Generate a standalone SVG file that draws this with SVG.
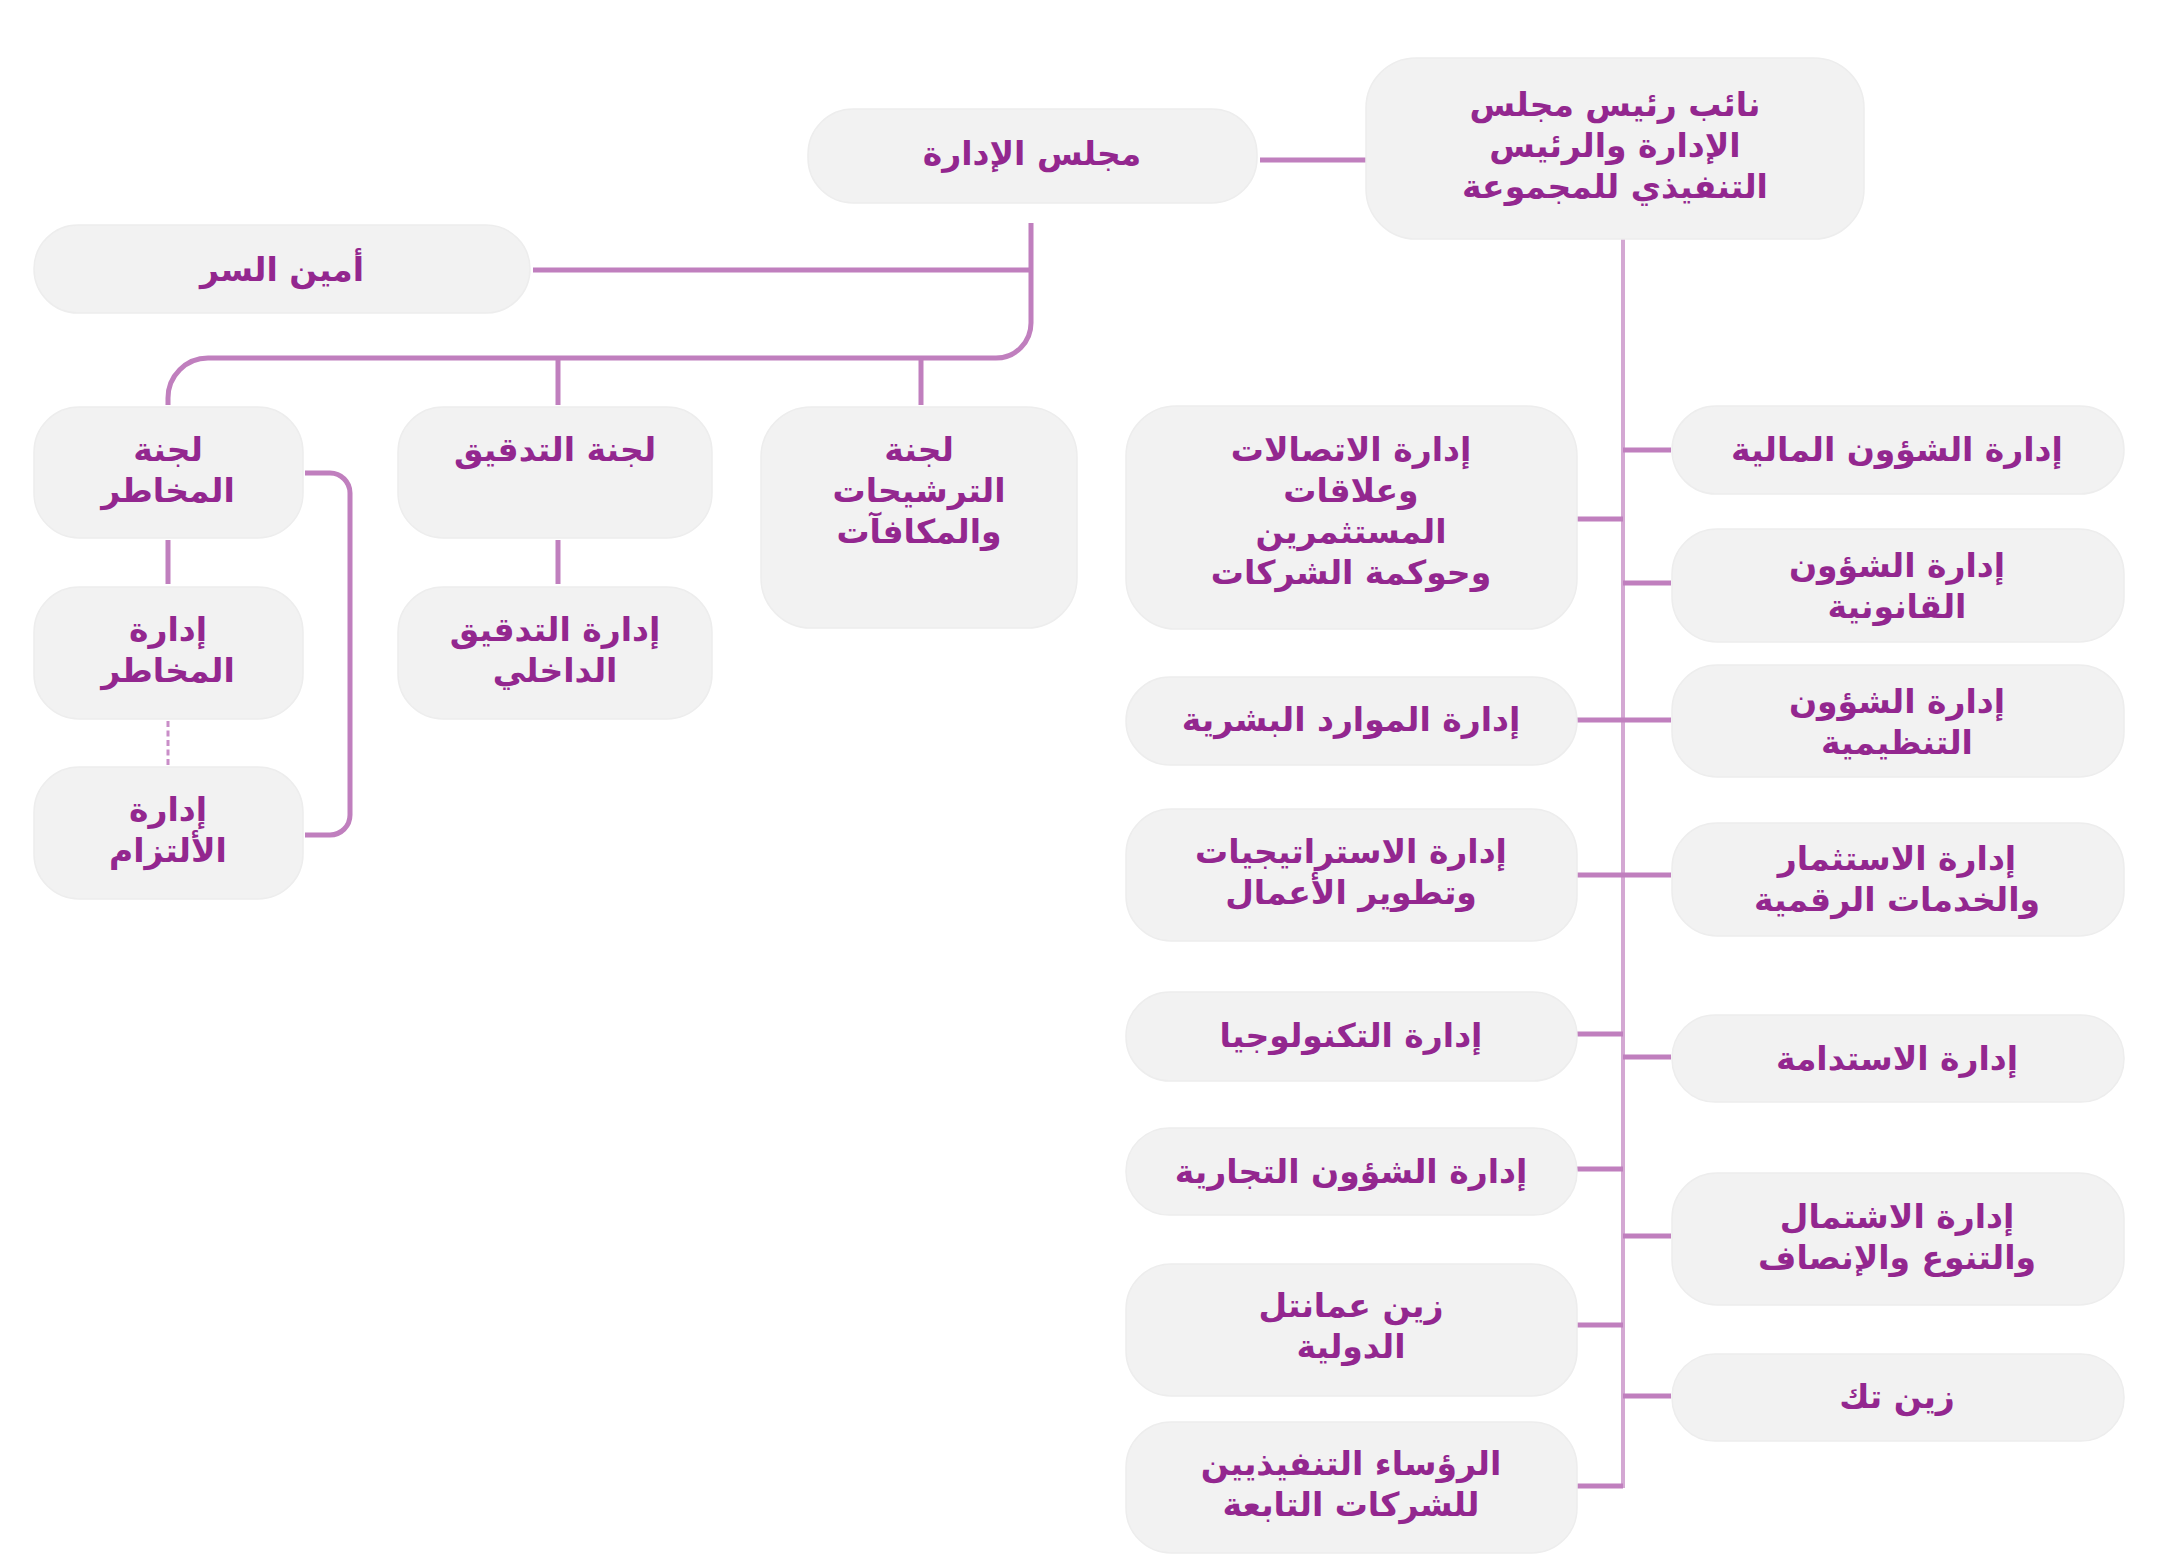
<svg xmlns="http://www.w3.org/2000/svg" width="2157" height="1555" viewBox="0 0 2157 1555">
<style>
.box{fill:#f2f2f2;stroke:#ededed;stroke-width:1.5}
.t{font-family:"DejaVu Sans","Noto Sans",sans-serif;font-weight:bold;font-size:33px;fill:#93278f;text-anchor:middle;dominant-baseline:central}
.c{fill:none;stroke:#c07fbe;stroke-width:5}
.v{fill:none;stroke:#d4a8d3;stroke-width:4}
.d{fill:none;stroke:#c98ec8;stroke-width:3;stroke-dasharray:6 3.5}
</style>
<rect width="2157" height="1555" fill="#ffffff"/>
<g id="connectors">
<path class="c" d="M1260,160 H1366"/>
<path class="c" d="M1031,223 V323 A35,35 0 0 1 996,358 H208 A40,40 0 0 0 168,398 V405"/>
<path class="c" d="M533,270 H1031"/>
<path class="c" d="M558,358 V405"/>
<path class="c" d="M921,358 V405"/>
<path class="c" d="M168,540 V584"/>
<path class="c" d="M558,540 V584"/>
<path class="d" d="M168,721 V766"/>
<path class="c" d="M305,473 H330 A20,20 0 0 1 350,493 V815 A20,20 0 0 1 330,835 H305"/>
<path class="v" d="M1623,239 V1488"/>
<path class="c" d="M1623,450 H1671 M1623,583 H1671 M1577,720 H1671 M1577,875 H1671 M1623,1057 H1671 M1623,1236 H1671 M1623,1396 H1671"/>
<path class="c" d="M1577,519 H1623 M1577,1034 H1623 M1577,1169 H1623 M1577,1325 H1623 M1577,1486 H1623"/>
</g>
<g id="board"><rect class="box" x="808" y="109" width="449" height="94" rx="45"/><text class="t" x="1032" y="153">مجلس الإدارة</text></g>
<g id="vp"><rect class="box" x="1366" y="58" width="498" height="181" rx="50"/><text class="t" x="1615" y="105"><tspan x="1615" y="104">نائب رئيس مجلس</tspan><tspan x="1615" y="145">الإدارة والرئيس</tspan><tspan x="1615" y="186">التنفيذي للمجموعة</tspan></text></g>
<g id="secretary"><rect class="box" x="34" y="225" width="496" height="88" rx="44"/><text class="t" x="282" y="269">أمين السر</text></g>
<g id="risk-committee"><rect class="box" x="34" y="407" width="269" height="131" rx="45"/><text class="t"><tspan x="168" y="449">لجنة</tspan><tspan x="168" y="490">المخاطر</tspan></text></g>
<g id="audit-committee"><rect class="box" x="398" y="407" width="314" height="131" rx="45"/><text class="t" x="555" y="449">لجنة التدقيق</text></g>
<g id="nomination-committee"><rect class="box" x="761" y="407" width="316" height="221" rx="50"/><text class="t"><tspan x="919" y="449">لجنة</tspan><tspan x="919" y="490">الترشيحات</tspan><tspan x="919" y="531">والمكافآت</tspan></text></g>
<g id="risk-management"><rect class="box" x="34" y="587" width="269" height="132" rx="45"/><text class="t"><tspan x="168" y="629">إدارة</tspan><tspan x="168" y="670">المخاطر</tspan></text></g>
<g id="compliance"><rect class="box" x="34" y="767" width="269" height="132" rx="45"/><text class="t"><tspan x="168" y="809">إدارة</tspan><tspan x="168" y="850">الألتزام</tspan></text></g>
<g id="internal-audit"><rect class="box" x="398" y="587" width="314" height="132" rx="45"/><text class="t"><tspan x="555" y="629">إدارة التدقيق</tspan><tspan x="555" y="670">الداخلي</tspan></text></g>
<g id="finance"><rect class="box" x="1672" y="406" width="452" height="88" rx="44"/><text class="t" x="1897" y="449">إدارة الشؤون المالية</text></g>
<g id="legal"><rect class="box" x="1672" y="529" width="452" height="113" rx="45"/><text class="t"><tspan x="1897" y="565">إدارة الشؤون</tspan><tspan x="1897" y="606">القانونية</tspan></text></g>
<g id="regulatory"><rect class="box" x="1672" y="665" width="452" height="112" rx="45"/><text class="t"><tspan x="1897" y="701">إدارة الشؤون</tspan><tspan x="1897" y="742">التنظيمية</tspan></text></g>
<g id="investment"><rect class="box" x="1672" y="823" width="452" height="113" rx="45"/><text class="t"><tspan x="1897" y="858">إدارة الاستثمار</tspan><tspan x="1897" y="899">والخدمات الرقمية</tspan></text></g>
<g id="sustainability"><rect class="box" x="1672" y="1015" width="452" height="87" rx="43"/><text class="t" x="1897" y="1058">إدارة الاستدامة</text></g>
<g id="inclusion"><rect class="box" x="1672" y="1173" width="452" height="132" rx="45"/><text class="t"><tspan x="1897" y="1216">إدارة الاشتمال</tspan><tspan x="1897" y="1257">والتنوع والإنصاف</tspan></text></g>
<g id="zain-tech"><rect class="box" x="1672" y="1354" width="452" height="87" rx="43"/><text class="t" x="1897" y="1396">زين تك</text></g>
<g id="communications"><rect class="box" x="1126" y="406" width="451" height="223" rx="50"/><text class="t"><tspan x="1351" y="449">إدارة الاتصالات</tspan><tspan x="1351" y="490">وعلاقات</tspan><tspan x="1351" y="531">المستثمرين</tspan><tspan x="1351" y="572">وحوكمة الشركات</tspan></text></g>
<g id="hr"><rect class="box" x="1126" y="677" width="451" height="88" rx="44"/><text class="t" x="1351" y="719">إدارة الموارد البشرية</text></g>
<g id="strategy"><rect class="box" x="1126" y="809" width="451" height="132" rx="45"/><text class="t"><tspan x="1351" y="851">إدارة الاستراتيجيات</tspan><tspan x="1351" y="892">وتطوير الأعمال</tspan></text></g>
<g id="technology"><rect class="box" x="1126" y="992" width="451" height="89" rx="44"/><text class="t" x="1351" y="1035">إدارة التكنولوجيا</text></g>
<g id="commercial"><rect class="box" x="1126" y="1128" width="451" height="87" rx="43"/><text class="t" x="1351" y="1171">إدارة الشؤون التجارية</text></g>
<g id="omantel"><rect class="box" x="1126" y="1264" width="451" height="132" rx="45"/><text class="t"><tspan x="1351" y="1305">زين عمانتل</tspan><tspan x="1351" y="1346">الدولية</tspan></text></g>
<g id="subsidiary-ceos"><rect class="box" x="1126" y="1422" width="451" height="131" rx="45"/><text class="t"><tspan x="1351" y="1463">الرؤساء التنفيذيين</tspan><tspan x="1351" y="1504">للشركات التابعة</tspan></text></g>
</svg>
